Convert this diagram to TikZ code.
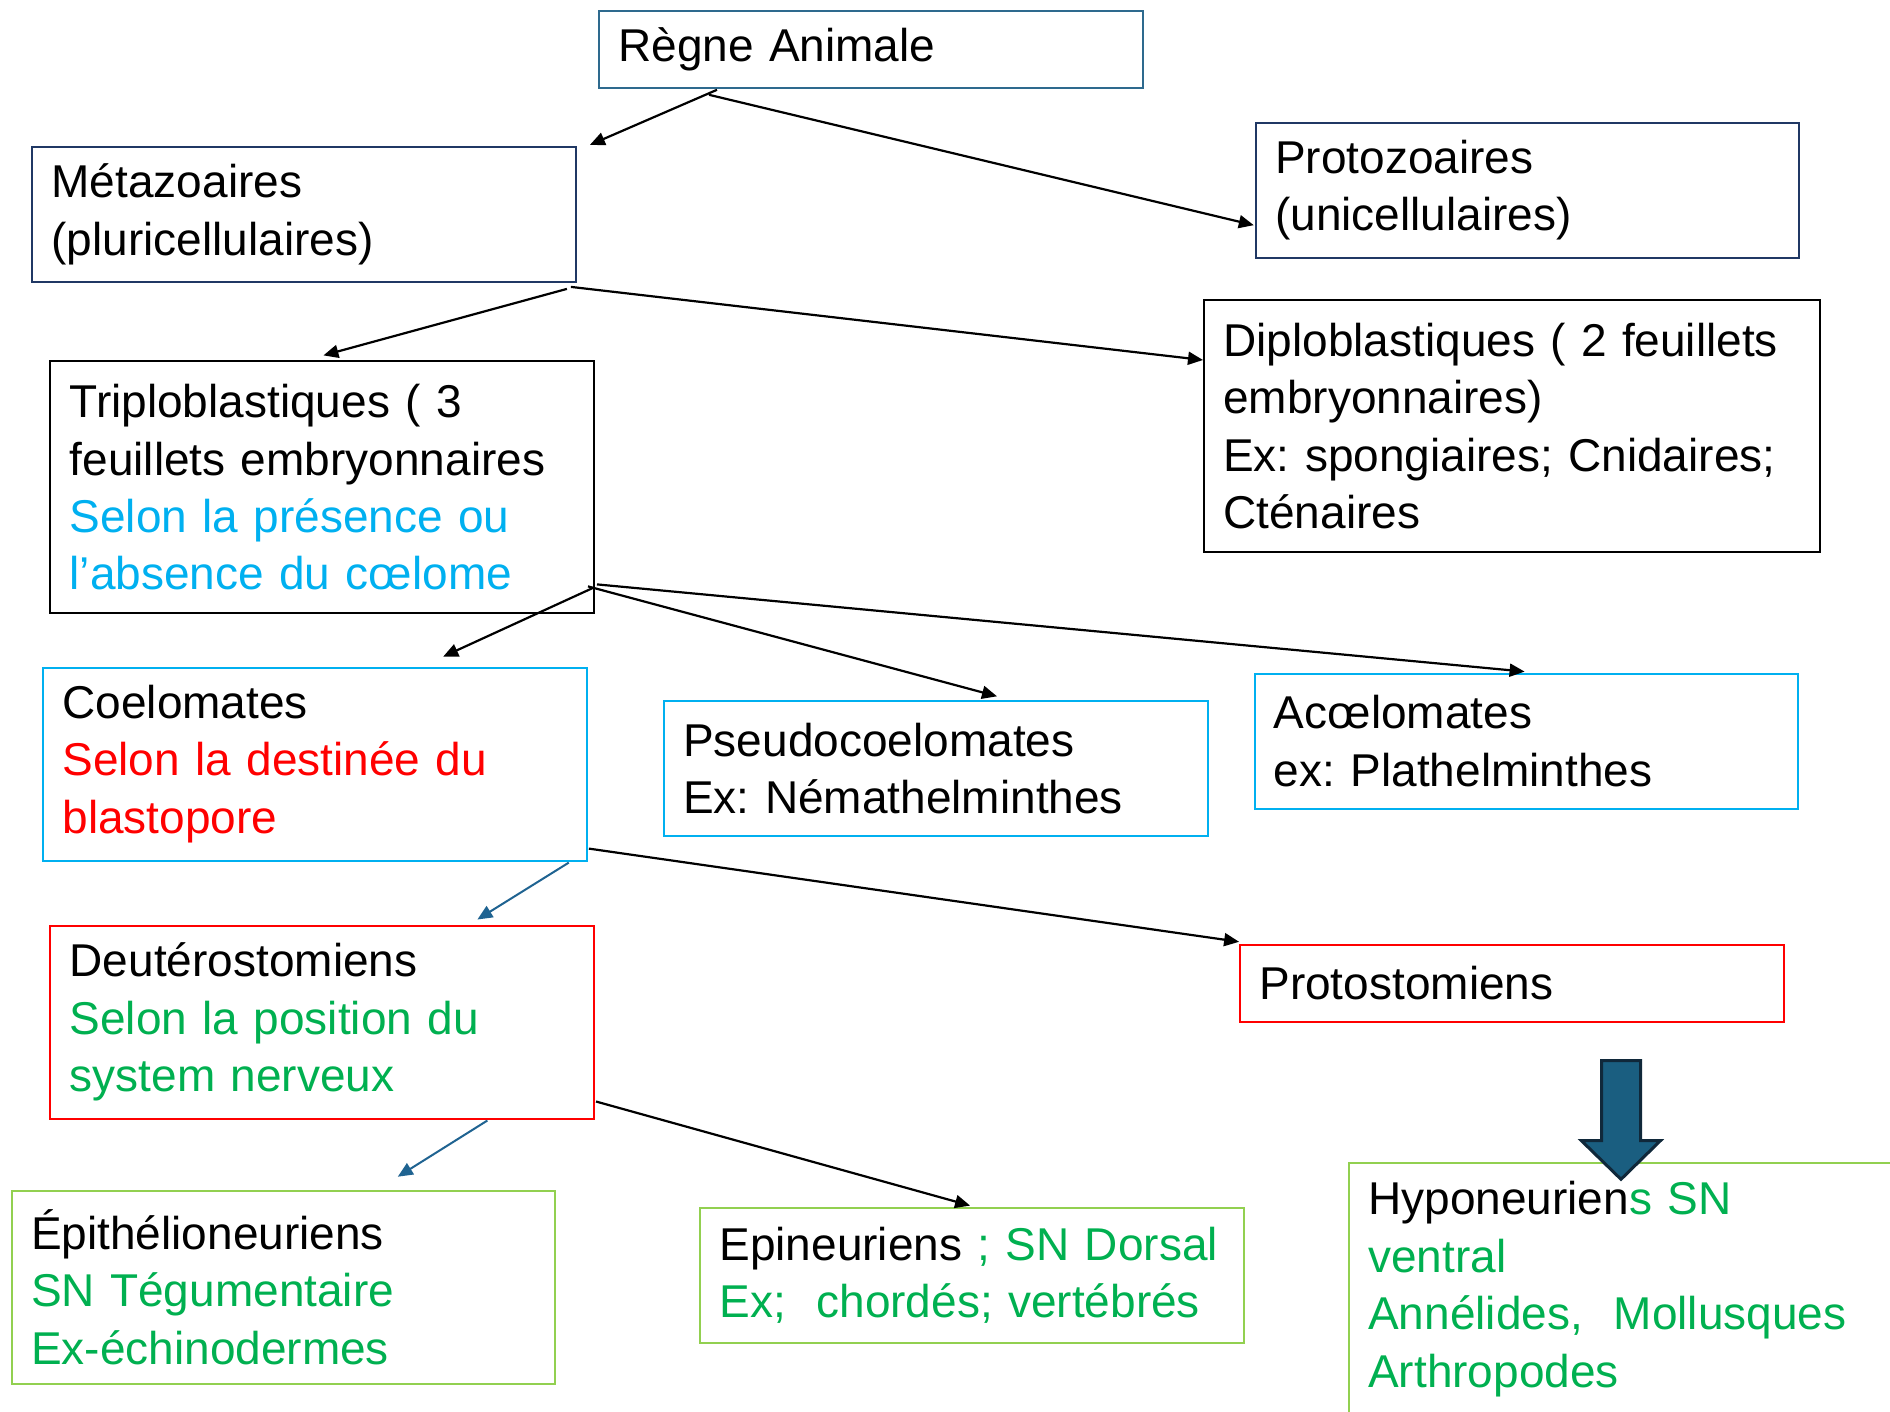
\documentclass[tikz,border=0pt]{standalone}
\usepackage{fontspec}
\setmainfont{Liberation Sans}
\usetikzlibrary{calc,arrows.meta}
\frenchspacing
\definecolor{navyb}{HTML}{203864}
\definecolor{steelb}{HTML}{2E6A8E}
\definecolor{cyanb}{HTML}{00B0F0}
\definecolor{redb}{HTML}{FF0000}
\definecolor{greent}{HTML}{00B050}
\definecolor{lgreen}{HTML}{92D050}
\definecolor{tealarr}{HTML}{1F6391}
\definecolor{blockfill}{HTML}{1A5E80}
\definecolor{blockline}{HTML}{10283A}
\tikzset{
  box/.style={draw, line width=1pt, anchor=north west, align=left,
    inner xsep=9.65pt, inner ysep=0pt, text width=252.5pt,
    font=\fontsize{23}{28.7}\selectfont\frenchspacing},
  h1/.style={minimum height=38.6pt},
  h2/.style={minimum height=67.5pt},
  h3/.style={minimum height=96.5pt},
  h4/.style={minimum height=126pt},
  arr/.style={line width=1.1pt, -{Triangle[length=7.5pt,width=6.5pt]}},
  tarr/.style={line width=1pt, draw=tealarr, -{Triangle[length=7.5pt,width=6.5pt,fill=tealarr]}},
}
\begin{document}
\begin{tikzpicture}[x=0.5pt,y=-0.5pt]
\useasboundingbox (0,0) rectangle (1890,1412);
\fill[white] (0,0) rectangle (1890,1412);

\node[box,h1,draw=steelb] (reg) at (598,9.6) {Règne Animale};
\node[box,h2,draw=navyb] (meta) at (31.3,145.9) {Métazoaires\\(pluricellulaires)};
\node[box,h2,draw=navyb] (proto) at (1254.8,121.7) {Protozoaires\\(unicellulaires)};
\node[box,h4,draw=black] (triplo) at (49.4,360.4) {Triploblastiques ( 3\\feuillets embryonnaires\\\textcolor{cyanb}{Selon la présence ou}\\\textcolor{cyanb}{l’absence du cœlome}};
\node[box,h4,draw=black,text width=288.7pt] (diplo) at (1203,299) {Diploblastiques ( 2 feuillets\\embryonnaires)\\Ex: spongiaires; Cnidaires;\\Cténaires};
\node[box,h3,draw=cyanb] (coel) at (42.2,666.6) {Coelomates\\\textcolor{redb}{Selon la destinée du}\\\textcolor{redb}{blastopore}};
\node[box,h2,draw=cyanb] (pseudo) at (663,700.3) {Pseudocoelomates\\Ex: Némathelminthes};
\node[box,h2,draw=cyanb] (acoel) at (1253.6,672.6) {Acœlomates\\ex: Plathelminthes};
\node[box,h3,draw=redb] (deut) at (49.4,924.5) {Deutérostomiens\\\textcolor{greent}{Selon la position du}\\\textcolor{greent}{system nerveux}};
\node[box,h1,draw=redb] (prot) at (1239.1,943.8) {Protostomiens};
\node[box,h3,draw=lgreen] (epith) at (10.8,1189.7) {Épithélioneuriens\\\textcolor{greent}{SN Tégumentaire}\\\textcolor{greent}{Ex-échinodermes}};
\node[box,h2,draw=lgreen] (epin) at (699.1,1206.6) {Epineuriens \textcolor{greent}{; SN Dorsal}\\\textcolor{greent}{Ex;\ \ chordés; vertébrés}};
\node[box,h4,draw=lgreen] (hypo) at (1348,1162) {Hyponeurien\textcolor{greent}{s SN}\\\textcolor{greent}{ventral}\\\textcolor{greent}{Annélides,\ \ Mollusques}\\\textcolor{greent}{Arthropodes}};

\draw[arr] ($(reg.south west)+(119,1)$) -- ($(meta.north east)+(13,-1)$);
\draw[arr] ($(reg.south west)+(111,6)$) -- ($(proto.west)+(-1,35)$);
\draw[arr] ($(meta.south east)+(-10,6)$) -- ($(triplo.north west)+(274,-5)$);
\draw[arr] ($(meta.south east)+(-6,4)$) -- ($(diplo.north west)+(0,61)$);
\draw[arr] ($(triplo.south east)+(-2,-26.5)$) -- ($(coel.north west)+(401,-10)$);
\draw[arr] ($(triplo.south east)+(-7,-28)$) -- ($(pseudo.north west)+(334,-4)$);
\draw[arr] ($(triplo.south east)+(2,-30)$) -- ($(acoel.north west)+(271,-1)$);
\draw[tarr] ($(coel.south east)+(-19,1)$) -- ($(deut.north west)+(428,-5)$);
\draw[arr] ($(coel.south east)+(1,-13)$) -- ($(prot.north west)+(0,-2)$);
\draw[tarr] ($(deut.south west)+(438,1)$) -- ($(epith.north west)+(387,-13)$);
\draw[arr] ($(deut.south east)+(1,-18)$) -- ($(epin.north west)+(271,-1)$);

\draw[fill=blockfill, draw=blockline, line width=1.5pt, line join=miter]
  (1601.7,1060.7) -- (1640.5,1060.7) -- (1640.5,1140.7) -- (1660.4,1140.7)
  -- (1621,1179.3) -- (1581.4,1140.7) -- (1601.7,1140.7) -- cycle;
\end{tikzpicture}
\end{document}
